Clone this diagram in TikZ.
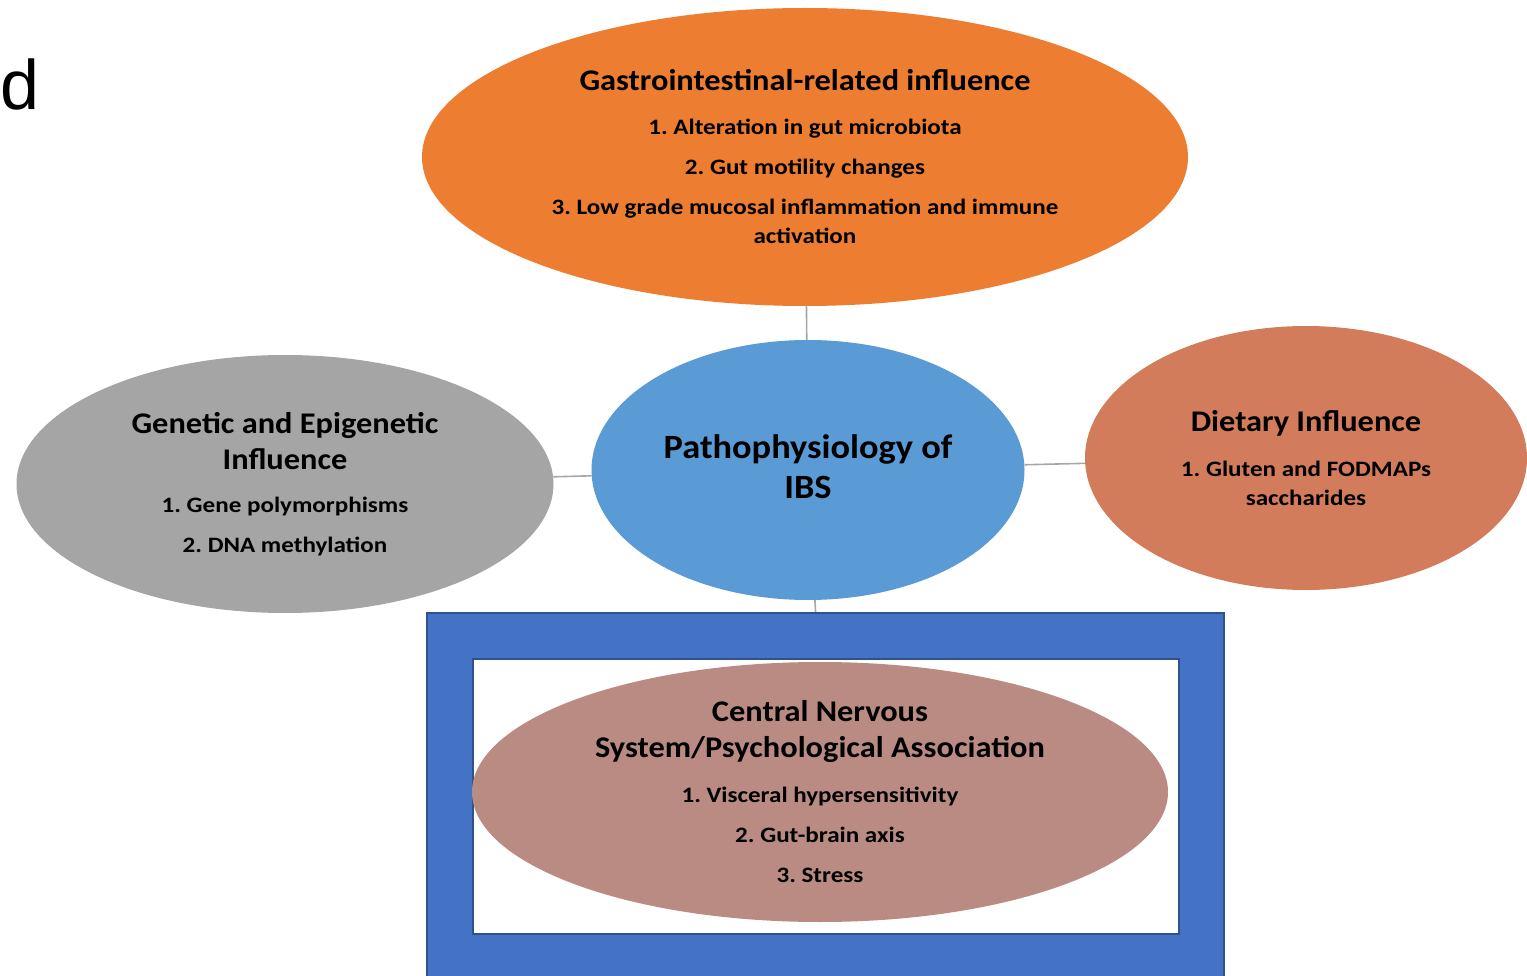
\documentclass[tikz,border=0pt]{standalone}
\usepackage{fontspec}
\setmainfont{Carlito}
\newfontfamily\panelfont{Liberation Sans}
\newfontfamily\itemfam{Carlito}[FakeStretch=1.14]
\newfontfamily\headfam{Carlito}[FakeStretch=1.08]
\newfontfamily\centrefam{Carlito}[FakeStretch=1.07]
\usetikzlibrary{shapes.geometric}

\definecolor{giorange}{HTML}{ED7D31}
\definecolor{ibsblue}{HTML}{5B9BD5}
\definecolor{gengray}{HTML}{A5A5A5}
\definecolor{dietred}{HTML}{D27C5C}
\definecolor{cnsrose}{HTML}{BA8B82}
\definecolor{frameblue}{HTML}{4472C4}
\definecolor{framedark}{HTML}{2F528F}
\definecolor{linkgray}{HTML}{A6A6A6}

\newcommand\headfont{\headfam\bfseries\fontsize{30}{36}\selectfont}

\begin{document}
\frenchspacing
\begin{tikzpicture}[x=1pt,y=-1pt,
  blob/.style={ellipse, inner sep=0pt, draw=none},
  txt/.style={align=center, inner sep=0pt, text=black,
              font=\itemfam\bfseries\fontsize{22}{29}\selectfont\frenchspacing},
  link/.style={draw=linkgray, line width=1.6pt}]
\useasboundingbox (0,0) rectangle (1527,976);

% panel letter
\node[anchor=base west, inner sep=0pt, font=\panelfont\fontsize{70}{70}\selectfont] (panel) at (0,110) {d};

% framed box around the CNS ellipse
\node[draw=framedark, fill=frameblue, line width=2pt, inner sep=0pt,
      minimum width=797pt, minimum height=372pt, anchor=north west] (frame) at (426,612) {};
\node[draw=framedark, fill=white, line width=2pt, inner sep=0pt,
      minimum width=706pt, minimum height=275pt, anchor=north west] (inner) at (472,658) {};

% ellipses
\node[blob, fill=giorange, minimum width=766pt, minimum height=298pt] (gi) at (805,157) {};
\node[blob, fill=ibsblue, minimum width=433pt, minimum height=260pt] (ibs) at (808,470) {};
\node[blob, fill=gengray, minimum width=537pt, minimum height=258pt] (gen) at (285,484) {};
\node[blob, fill=dietred, minimum width=442pt, minimum height=264pt] (diet) at (1306,458) {};
\node[blob, fill=cnsrose, minimum width=696pt, minimum height=260pt] (cns) at (820,792) {};

% connectors
\draw[link] (gi) -- (ibs);
\draw[link] (gen) -- (ibs);
\draw[link] (ibs) -- (diet);
\draw[link] (ibs) -- (frame);

% texts
\node[txt] (gitxt) at (gi) {{\headfont Gastrointestinal-related influence}\\[15pt]
  1. Alteration in gut microbiota\\[11pt]
  2. Gut motility changes\\[11pt]
  3. Low grade mucosal inflammation and immune\\
  activation};

\node[txt, font=\centrefam\bfseries\fontsize{34}{40}\selectfont] (ibstxt) at ([yshift=3pt]ibs.center) {Pathophysiology of\\IBS};

\node[txt] (gentxt) at (gen) {{\headfont Genetic and Epigenetic}\\[7pt]
  {\headfont Influence}\\[14pt]
  1. Gene polymorphisms\\[11pt]
  2. DNA methylation};

\node[txt] (diettxt) at (diet) {{\headfont Dietary Influence}\\[16pt]
  1. Gluten and FODMAPs\\
  saccharides};

\node[txt] (cnstxt) at (cns) {{\headfont Central Nervous}\\[7pt]
  {\headfont System/Psychological Association}\\[16pt]
  1. Visceral hypersensitivity\\[11pt]
  2. Gut-brain axis\\[11pt]
  3. Stress};
\end{tikzpicture}
\end{document}
